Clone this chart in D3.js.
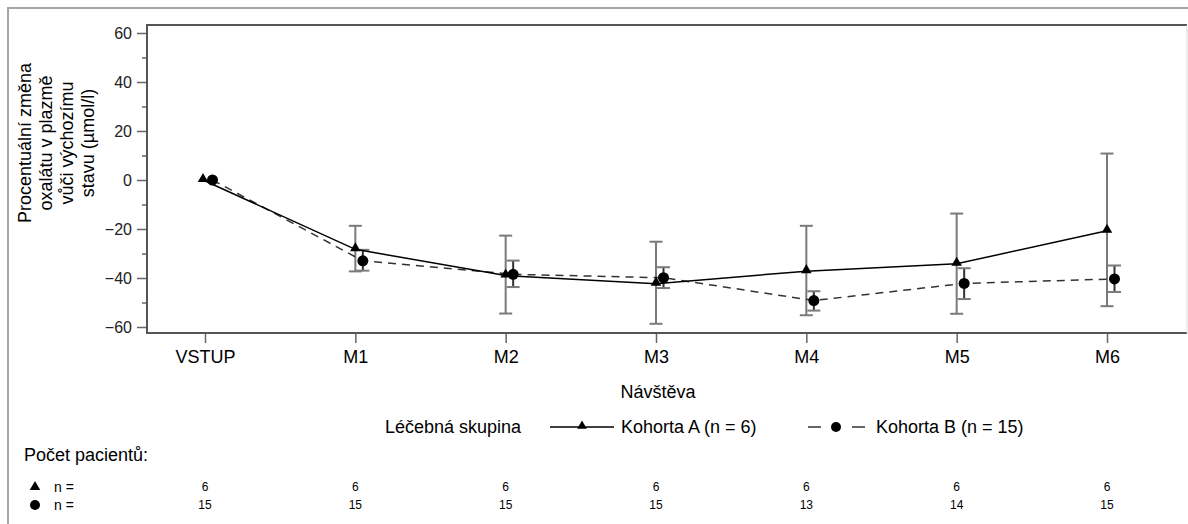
<!DOCTYPE html>
<html>
<head>
<meta charset="utf-8">
<script src="https://cdn.jsdelivr.net/npm/d3@7"></script>
<style>
  body { margin: 0; background: #fff; }
  svg { font-family: "Liberation Sans", Arial, sans-serif; }
</style>
</head>
<body>
<svg id="chart"></svg>
<script>
// visits and series values
const visits = ["VSTUP", "M1", "M2", "M3", "M4", "M5", "M6"];
const meanA  = [0, -28.3, -39.0, -42.3, -37.2, -34.2, -20.7];
const lowA   = [0, -37.3, -54.5, -58.7, -55.2, -54.6, -51.5];
const highA  = [0, -18.7, -22.7, -25.2, -18.7, -13.7, 10.8];
const meanB  = [0, -33.0, -38.5, -39.9, -49.2, -42.2, -40.4];
const lowB   = [0, -37.0, -43.7, -44.1, -53.3, -48.6, -45.7];
const highB  = [0, -28.5, -32.9, -35.6, -45.4, -36.0, -34.9];
const countA = [6, 6, 6, 6, 6, 6, 6];
const countB = [15, 15, 15, 15, 13, 14, 15];
const yTicks = [-60, -40, -20, 0, 20, 40, 60];
const yMinor = [-50, -30, -10, 10, 30, 50];
const yLabel = ["Procentuální změna", "oxalátu v plazmě", "vůči výchozímu", "stavu (µmol/l)"];
const legendA = "Kohorta A (n = 6)";
const legendB = "Kohorta B (n = 15)";

const W = 1188, H = 524;
const svg = d3.select("#chart").attr("width", W).attr("height", H);

const plot = { left: 147, top: 25, right: 1187, bottom: 333 };

let x = d3.scalePoint().domain(visits).range([205, 1107]);
let y = d3.scaleLinear().domain([-60, 60]).range([327, 33]);
const offB = 7.5;

// outer frame
svg.append("rect")
    .attr("x", 8).attr("y", 8)
    .attr("width", W).attr("height", H)
    .attr("fill", "none").attr("stroke", "#a6a6a6").attr("stroke-width", 2);

// y axis
let yAxis = svg.append("g")
    .attr("transform", `translate(${plot.left},0)`)
    .call(d3.axisLeft(y).tickValues(yTicks).tickSize(10).tickPadding(5));
yAxis.selectAll("text").style("font-size", "16px").attr("fill", "#222");
svg.append("g")
    .attr("transform", `translate(${plot.left},0)`)
    .call(d3.axisLeft(y).tickValues(yMinor).tickSize(5).tickFormat(""));
svg.selectAll(".domain").remove();
svg.selectAll(".tick line").attr("stroke", "#666").attr("stroke-width", 1.5);

// x axis
let xAxis = svg.append("g")
    .attr("transform", `translate(0,${plot.bottom})`)
    .call(d3.axisBottom(x).tickSize(10).tickPadding(7));
xAxis.select(".domain").remove();
xAxis.selectAll(".tick line").attr("stroke", "#666").attr("stroke-width", 1.5);
xAxis.selectAll("text").style("font-size", "18px").attr("fill", "#000");

// plot box
svg.append("path")
    .attr("d", `M${plot.right},${plot.top}H${plot.left}V${plot.bottom}H${plot.right}`)
    .attr("fill", "none").attr("stroke", "#555").attr("stroke-width", 2);
svg.append("line")
    .attr("x1", plot.right).attr("x2", plot.right)
    .attr("y1", plot.top).attr("y2", plot.bottom)
    .attr("stroke", "#ddd").attr("stroke-width", 1);

// y label
let yl = svg.append("text")
    .attr("transform", "translate(31,143) rotate(-90)")
    .attr("text-anchor", "middle")
    .style("font-size", "18px");
yLabel.forEach((t, i) => {
    yl.append("tspan").attr("x", 0).attr("dy", i === 0 ? 0 : 21).text(t);
});

// x label
svg.append("text")
    .attr("x", 658).attr("y", 398)
    .attr("text-anchor", "middle")
    .style("font-size", "18px")
    .text("Návštěva");

// error bars
function errorBars(low, high, dx, lineColor) {
    let g = svg.append("g");
    visits.forEach((v, i) => {
        if (i === 0) return;
        let cx = x(v) + dx;
        g.append("line")
            .attr("x1", cx).attr("x2", cx)
            .attr("y1", y(high[i])).attr("y2", y(low[i]))
            .attr("stroke", lineColor).attr("stroke-width", 2);
        [low[i], high[i]].forEach(val => {
            g.append("line")
                .attr("x1", cx - 6.5).attr("x2", cx + 6.5)
                .attr("y1", y(val)).attr("y2", y(val))
                .attr("stroke", "#7a7a7a").attr("stroke-width", 2);
        });
    });
}
errorBars(lowA, highA, 0, "#7a7a7a");
errorBars(lowB, highB, offB, "#333");

// lines
let lineA = d3.line().x((d, i) => x(visits[i]) + (i === 0 ? -2 : 0)).y(d => y(d));
let lineB = d3.line().x((d, i) => x(visits[i]) + offB).y(d => y(d));

svg.append("path").datum(meanB)
    .attr("d", lineB)
    .attr("fill", "none").attr("stroke", "#333").attr("stroke-width", 1.5)
    .attr("stroke-dasharray", "8,6");
svg.append("path").datum(meanA)
    .attr("d", lineA)
    .attr("fill", "none").attr("stroke", "#000").attr("stroke-width", 1.5);

const tri = d3.symbol().type(d3.symbolTriangle).size(48);

svg.selectAll(".markA").data(meanA).join("path")
    .attr("class", "markA")
    .attr("d", tri)
    .attr("transform", (d, i) => `translate(${x(visits[i]) + (i === 0 ? -2 : 0)},${y(d) - 1})`)
    .attr("fill", "#000");

svg.selectAll(".markB").data(meanB).join("circle")
    .attr("class", "markB")
    .attr("cx", (d, i) => x(visits[i]) + offB)
    .attr("cy", d => y(d))
    .attr("r", 5.5)
    .attr("fill", "#000");

// legend
let lg = svg.append("g").style("font-size", "18px");
lg.append("text").attr("x", 385).attr("y", 433).text("Léčebná skupina");
lg.append("line").attr("x1", 550).attr("x2", 614).attr("y1", 427).attr("y2", 427)
    .attr("stroke", "#000").attr("stroke-width", 1.5);
lg.append("path").attr("d", d3.symbol().type(d3.symbolTriangle).size(40))
    .attr("transform", "translate(582,426)").attr("fill", "#000");
lg.append("text").attr("x", 621).attr("y", 433).text(legendA);
lg.append("line").attr("x1", 808).attr("x2", 865).attr("y1", 427).attr("y2", 427)
    .attr("stroke", "#333").attr("stroke-width", 1.5).attr("stroke-dasharray", "13,31");
lg.append("circle").attr("cx", 836).attr("cy", 427).attr("r", 5).attr("fill", "#000");
lg.append("text").attr("x", 876).attr("y", 433).text(legendB);

// patient counts
svg.append("text").attr("x", 24).attr("y", 461)
    .style("font-size", "18px").text("Počet pacientů:");

svg.append("path").attr("d", tri).attr("transform", "translate(35,487)").attr("fill", "#000");
svg.append("circle").attr("cx", 35).attr("cy", 505).attr("r", 5).attr("fill", "#000");
svg.append("text").attr("x", 54).attr("y", 492).style("font-size", "14px").text("n =");
svg.append("text").attr("x", 54).attr("y", 510).style("font-size", "14px").text("n =");

svg.selectAll(".cntA").data(countA).join("text")
    .attr("class", "cntA")
    .attr("x", (d, i) => x(visits[i]))
    .attr("y", 491)
    .attr("text-anchor", "middle")
    .style("font-size", "12px")
    .text(d => d);
svg.selectAll(".cntB").data(countB).join("text")
    .attr("class", "cntB")
    .attr("x", (d, i) => x(visits[i]))
    .attr("y", 509)
    .attr("text-anchor", "middle")
    .style("font-size", "12px")
    .text(d => d);
</script>
</body>
</html>
